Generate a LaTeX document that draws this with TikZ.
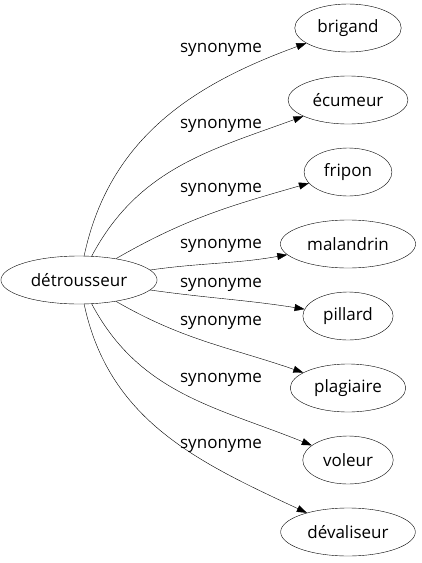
\documentclass[tikz,border=0pt]{standalone}
\usepackage{fontspec}
\setmainfont{Open Sans}
\usepackage{tikz}
\usetikzlibrary{shapes.geometric, arrows.meta, positioning}
\tikzstyle{word} = [draw, ellipse, 
    minimum height=48pt, inner xsep=7pt, inner ysep=2pt]
\tikzstyle{arrow} = [-{Triangle[length=10pt,width=7pt]}]
\tikzstyle{rel} = [inner sep=0pt]

\begin{document}
\begin{tikzpicture}[x=1pt, y=1pt, node distance=72pt,
    font=\fontsize{17}{20}\selectfont]

            \useasboundingbox (0,0) rectangle (422,-563);

            % Words
            \node (det) [word] at (79,-280) {détrousseur};
            \node (brigand) [word] at (348,-28) {brigand};
            \node (ecumeur) [word, below of=brigand] {écumeur};
            \node (fripon) [word, below of=ecumeur] {fripon};
            \node (malandrin) [word, below of=fripon] {malandrin};
            \node (pillard) [word, below of=malandrin] {pillard};
            \node (plagiaire) [word, below of=pillard] {plagiaire};
            \node (voleur) [word, below of=plagiaire] {voleur};
            \node (devaliseur) [word, below of=voleur] {dévaliseur};

            % Labels
            \node (s1) [rel] at (221,-50) {synonyme};
            \node (s2) [rel] at (221,-126) {synonyme};
            \node (s3) [rel] at (221,-190) {synonyme};
            \node (s4) [rel] at (221,-246) {synonyme};
            \node (s5) [rel] at (221,-285) {synonyme};
            \node (s6) [rel] at (221,-323) {synonyme};
            \node (s7) [rel] at (221,-380) {synonyme};
            \node (s8) [rel] at (221,-446) {synonyme};

            % Arrows
            \draw [arrow] (det) to[out=78, in=200] (brigand);
            \draw [arrow] (det) to[out=62, in=200] (ecumeur);
            \draw [arrow] (det) to[out=30, in=196] (fripon);
            \draw [arrow] (det) to[out=8, in=190] (malandrin);
            \draw [arrow] (det) to[out=-8, in=171] (pillard);
            \draw [arrow] (det) to[out=-30, in=161] (plagiaire);
            \draw [arrow] (det) to[out=-62, in=158] (voleur);
            \draw [arrow] (det) to[out=-78, in=155] (devaliseur);

        \end{tikzpicture}
\end{document}
